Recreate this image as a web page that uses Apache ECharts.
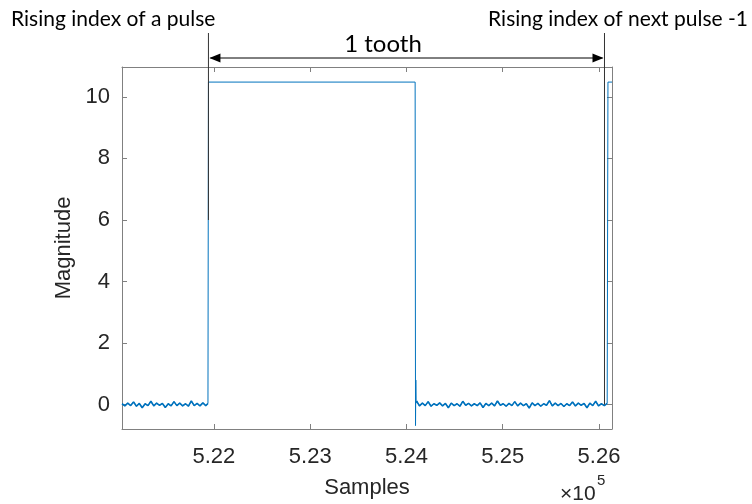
<!DOCTYPE html>
<html>
<head>
<meta charset="utf-8">
<script src="https://cdn.jsdelivr.net/npm/echarts@6/dist/echarts.min.js"></script>
<style>
    html, body { margin: 0; padding: 0; background: #fff; }
    #pulseChart { width: 752px; height: 504px; }
</style>
</head>
<body>
<div id="pulseChart"></div>
<script>
    // low level before the pulse
    const lowASamples = [
        521045, 521075, 521105, 521135, 521165, 521195, 521225, 521255, 521285, 521315,
        521345, 521375, 521405, 521435, 521465, 521495, 521525, 521555, 521585, 521615,
        521645, 521675, 521705, 521735, 521765, 521795, 521825, 521855, 521885, 521915, 521938
    ]
    const lowAValues = [
        0.03, -0.04, 0.05, -0.03, 0.09, -0.05, 0.04, -0.1, 0.03, -0.03,
        0.11, -0.04, 0.05, -0.02, 0.04, -0.09, 0.03, -0.04, 0.1, -0.03,
        0.05, -0.04, 0.03, -0.05, 0.12, -0.03, 0.04, -0.04, 0.06, -0.03, 0.04
    ]
    // the pulse itself
    const pulseSamples = [521943, 524090, 524094, 524097, 524100]
    const pulseValues = [10.48, 10.48, -0.68, 0.8, 0.05]
    // low level after the pulse
    const lowBSamples = [
        524105, 524135, 524165, 524195, 524225, 524255, 524285, 524315, 524345, 524375,
        524405, 524435, 524465, 524495, 524525, 524555, 524585, 524615, 524645, 524675,
        524705, 524735, 524765, 524795, 524825, 524855, 524885, 524915, 524945, 524975,
        525005, 525035, 525065, 525095, 525125, 525155, 525185, 525215, 525245, 525275,
        525305, 525335, 525365, 525395, 525425, 525455, 525485, 525515, 525545, 525575,
        525605, 525635, 525665, 525695, 525725, 525755, 525785, 525815, 525845, 525875,
        525905, 525935, 525965, 525995, 526025, 526055, 526085
    ]
    const lowBValues = [
        0.12, -0.04, 0.05, -0.03, 0.1, -0.05, 0.03, -0.02, 0.06, -0.04,
        0.04, -0.1, 0.05, -0.03, 0.03, -0.05, 0.11, -0.02, 0.04, -0.04,
        0.03, -0.03, 0.06, -0.09, 0.04, -0.03, 0.05, -0.04, 0.12, -0.02,
        0.03, -0.05, 0.04, -0.03, 0.1, -0.04, 0.05, -0.03, 0.03, -0.11,
        0.06, -0.03, 0.04, -0.05, 0.03, -0.02, 0.13, -0.04, 0.05, -0.03,
        0.04, -0.06, 0.03, -0.03, 0.09, -0.04, 0.05, -0.02, 0.04, -0.1,
        0.05, -0.03, 0.11, -0.04, 0.03, -0.03, 0.04
    ]
    // start of the next pulse
    const nextSamples = [526093, 526135]
    const nextValues = [10.48, 10.48]

    const xTicks = [522000, 523000, 524000, 525000, 526000]
    const yTicks = [0, 2, 4, 6, 8, 10]

    const risingIndex = 521943
    const nextRiseMinusOne = 526057

    const zip = (xs, ys) => xs.map((x, i) => [x, ys[i]])
    const samples = [].concat(lowASamples, pulseSamples, lowBSamples, nextSamples)
    const magnitude = [].concat(lowAValues, pulseValues, lowBValues, nextValues)

    const axisColor = '#808080'
    const textColor = '#262626'
    const tickFont = 'Liberation Sans'
    const blue = '#0072BD'

    const chart = echarts.init(document.getElementById('pulseChart'))

    const xBase = {
        type: 'value',
        min: 521045,
        max: 526135,
        splitLine: { show: false },
        axisLine: { show: true, onZero: false, lineStyle: { color: axisColor } },
        axisTick: { show: true, inside: true, length: 5, customValues: xTicks, lineStyle: { color: axisColor } }
    }
    const yBase = {
        type: 'value',
        min: -0.79,
        max: 10.97,
        splitLine: { show: false },
        axisLine: { show: true, onZero: false, lineStyle: { color: axisColor } },
        axisTick: { show: true, inside: true, length: 5, customValues: yTicks, lineStyle: { color: axisColor } }
    }

    let option = {
        animation: false,
        grid: { left: 122, right: 140, top: 67, bottom: 72 },
        xAxis: [
            Object.assign({}, xBase, {
                position: 'bottom',
                name: 'Samples',
                nameLocation: 'middle',
                nameGap: 48,
                nameTextStyle: { color: textColor, fontSize: 22, fontFamily: tickFont },
                axisLabel: {
                    customValues: xTicks,
                    formatter: v => (v / 1e5).toFixed(2),
                    color: textColor,
                    fontSize: 22,
                    fontFamily: tickFont,
                    margin: 17
                }
            }),
            Object.assign({}, xBase, { position: 'top', axisLabel: { show: false } })
        ],
        yAxis: [
            Object.assign({}, yBase, {
                position: 'left',
                name: 'Magnitude',
                nameLocation: 'middle',
                nameGap: 42,
                nameTextStyle: { color: textColor, fontSize: 22, fontFamily: tickFont },
                axisLabel: {
                    customValues: yTicks,
                    color: textColor,
                    fontSize: 22,
                    fontFamily: tickFont,
                    margin: 12
                }
            }),
            Object.assign({}, yBase, { position: 'right', axisLabel: { show: false } })
        ],
        series: [
            {
                type: 'line',
                data: zip(samples, magnitude),
                showSymbol: false,
                lineStyle: { color: blue, width: 1 },
                itemStyle: { color: blue }
            },
            {
                type: 'line',
                data: zip(lowASamples, lowAValues),
                showSymbol: false,
                lineStyle: { color: blue, width: 1.6 }
            },
            {
                type: 'line',
                data: zip(lowBSamples, lowBValues),
                showSymbol: false,
                lineStyle: { color: blue, width: 1.6 }
            }
        ]
    }
    chart.setOption(option)

    // annotations, placed through the axes
    const lx = chart.convertToPixel({ xAxisIndex: 0 }, risingIndex)
    const rx = chart.convertToPixel({ xAxisIndex: 0 }, nextRiseMinusOne)
    const lyEnd = chart.convertToPixel({ yAxisIndex: 0 }, 6)
    const ryEnd = chart.convertToPixel({ yAxisIndex: 0 }, 0)
    const lineTop = 33
    const arrowY = 58
    const annoFont = 'Lato'

    chart.setOption({
        graphic: [
            { type: 'line', shape: { x1: lx, y1: lineTop, x2: lx, y2: lyEnd }, style: { stroke: '#333', lineWidth: 1 }, z: 100 },
            { type: 'line', shape: { x1: rx, y1: lineTop, x2: rx, y2: ryEnd }, style: { stroke: '#333', lineWidth: 1 }, z: 100 },
            { type: 'line', shape: { x1: lx + 2, y1: arrowY, x2: rx - 2, y2: arrowY }, style: { stroke: '#000', lineWidth: 1 }, z: 100 },
            { type: 'polygon', shape: { points: [[lx + 1, arrowY], [lx + 12, arrowY - 4.5], [lx + 12, arrowY + 4.5]] }, style: { fill: '#000' }, z: 100 },
            { type: 'polygon', shape: { points: [[rx - 1, arrowY], [rx - 12, arrowY - 4.5], [rx - 12, arrowY + 4.5]] }, style: { fill: '#000' }, z: 100 },
            { type: 'text', x: 11, y: 19, style: { text: 'Rising index of a pulse', fill: '#000', font: '21px ' + annoFont, verticalAlign: 'middle' }, z: 100 },
            { type: 'text', x: 748, y: 19, style: { text: 'Rising index of next pulse -1', fill: '#000', font: '21px ' + annoFont, align: 'right', verticalAlign: 'middle' }, z: 100 },
            { type: 'text', x: 383, y: 44, style: { text: '1 tooth', fill: '#000', font: '24px ' + annoFont, align: 'center', verticalAlign: 'middle' }, z: 100 },
            { type: 'text', x: 560, y: 494, style: { text: '×10', fill: textColor, font: '21px ' + tickFont, verticalAlign: 'middle' }, z: 100 },
            { type: 'text', x: 597, y: 481, style: { text: '5', fill: textColor, font: '15px ' + tickFont, verticalAlign: 'middle' }, z: 100 }
        ]
    })
</script>
</body>
</html>
